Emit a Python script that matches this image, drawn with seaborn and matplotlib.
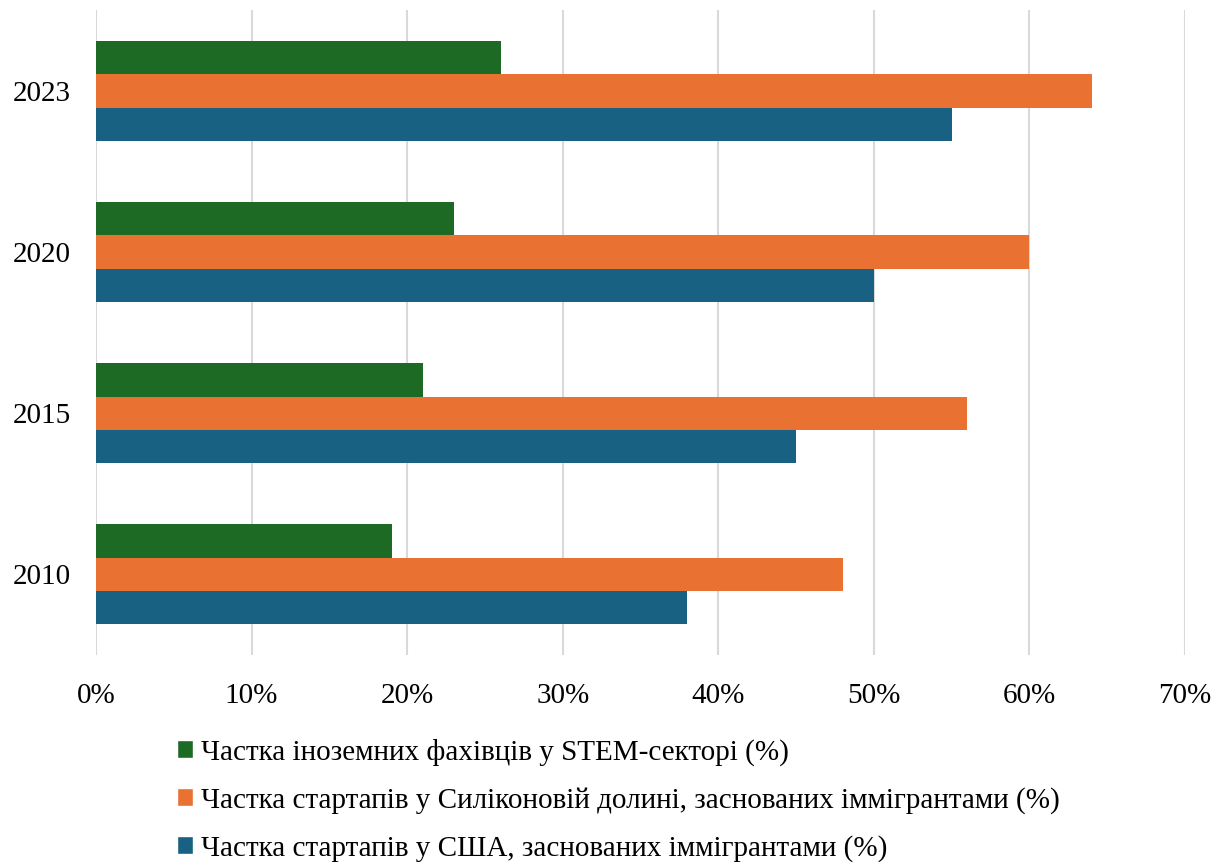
import pandas as pd
import matplotlib.pyplot as plt
import seaborn as sns
from matplotlib.patches import Patch
from matplotlib.ticker import PercentFormatter

years = ["2023", "2020", "2015", "2010"]
stem = [26, 23, 21, 19]
silicon = [64, 60, 56, 48]
usa = [55, 50, 45, 38]

series_names = [
    "Частка іноземних фахівців у STEM-секторі (%)",
    "Частка стартапів у Силіконовій долині, заснованих іммігрантами (%)",
    "Частка стартапів у США, заснованих іммігрантами (%)",
]
colors = ["#1d6a24", "#e97132", "#196182"]

rows = []
for name, vals in zip(series_names, [stem, silicon, usa]):
    for y, v in zip(years, vals):
        rows.append({"year": y, "series": name, "value": v})
df = pd.DataFrame(rows)

sns.set_style("white")
plt.rcParams["font.family"] = ["Liberation Serif", "DejaVu Serif"]
plt.rcParams["text.color"] = "black"
plt.rcParams["xtick.color"] = "black"
plt.rcParams["ytick.color"] = "black"

fig = plt.figure(figsize=(12.22, 8.63), dpi=100)
ax = fig.add_axes([0.0786, 0.241, 0.8911, 0.747])

sns.barplot(data=df, x="value", y="year", hue="series", order=years,
            hue_order=series_names, palette=colors, orient="h", width=0.62,
            saturation=1, linewidth=0, ax=ax, legend=False)

ax.set_xlim(0, 70)
ax.set_ylim(3.5, -0.5)
ax.set_xticks(range(0, 71, 10))
ax.xaxis.set_major_formatter(PercentFormatter(decimals=0))
ax.grid(axis="x", color="#d9d9d9", linewidth=1.5)
ax.set_axisbelow(True)
for s in ax.spines.values():
    s.set_visible(False)
ax.tick_params(axis="x", length=0, pad=20, labelsize=21)
ax.tick_params(axis="y", length=0, pad=18, labelsize=21)
ax.set_xlabel("")
ax.set_ylabel("")

handles = [Patch(facecolor=c, label=n) for c, n in zip(colors, series_names)]
fig.legend(handles=handles, loc="upper left", bbox_to_anchor=(0.135, 0.158),
           frameon=False, fontsize=21, handlelength=0.55, handleheight=0.55,
           handletextpad=0.3, labelspacing=0.72, borderaxespad=0)

fig.savefig("out.png", dpi=100)
